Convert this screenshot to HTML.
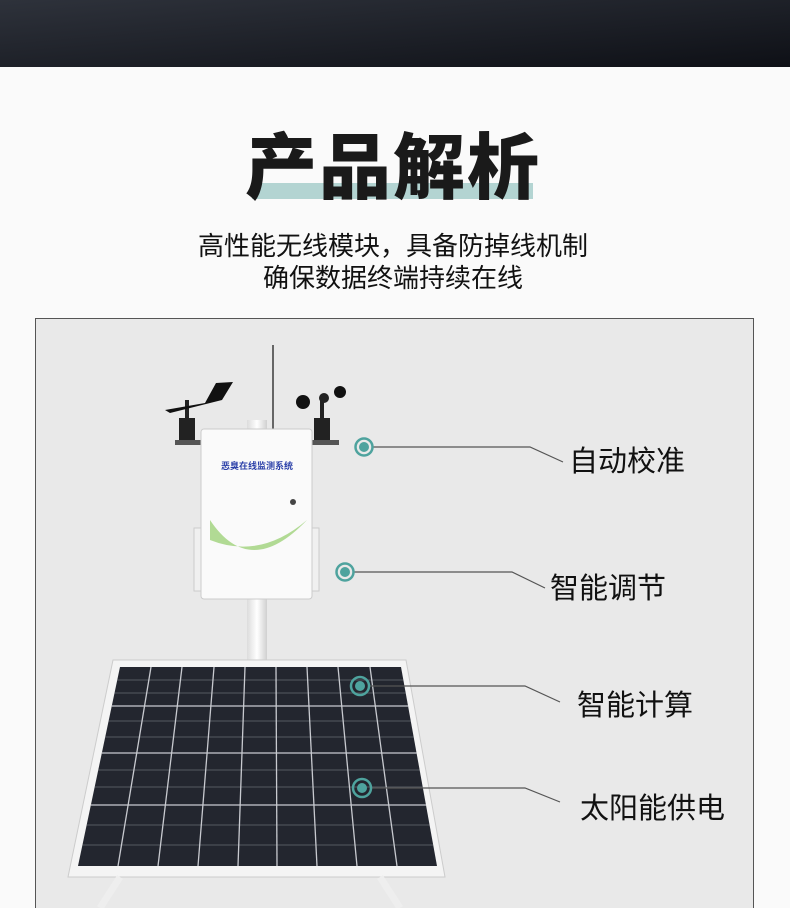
<!DOCTYPE html>
<html><head><meta charset="utf-8"><style>
body{margin:0;width:790px;height:908px;overflow:hidden;background:#fafafa;font-family:"Liberation Sans","Noto Sans CJK SC",sans-serif;}
</style></head><body>
<svg width="790" height="908" viewBox="0 0 790 908" xmlns="http://www.w3.org/2000/svg" style="display:block">
<defs>
<linearGradient id="hd" x1="0" y1="0" x2="1" y2="1"><stop offset="0" stop-color="#2e323b"/><stop offset="1" stop-color="#0e1016"/></linearGradient>
<linearGradient id="pole" x1="0" x2="1"><stop offset="0" stop-color="#dcdcdc"/><stop offset=".5" stop-color="#fff"/><stop offset="1" stop-color="#d0d0d0"/></linearGradient>
<clipPath id="cells"><polygon points="120,667 401,667 437,866 78,866"/></clipPath>
</defs>
<rect width="790" height="908" fill="#fafafa"/>
<rect width="790" height="67" fill="url(#hd)"/>
<rect x="252" y="183" width="281" height="16" fill="#b3d4d2"/>
<text x="393" y="193" text-anchor="middle" font-size="72" font-weight="900" fill="#1a1a1a" font-family="'Noto Sans CJK SC',sans-serif" letter-spacing="2">产品解析</text>
<text x="393" y="255" text-anchor="middle" font-size="26" fill="#111" font-family="'Noto Sans CJK SC',sans-serif">高性能无线模块，具备防掉线机制</text>
<text x="393" y="287" text-anchor="middle" font-size="26" fill="#111" font-family="'Noto Sans CJK SC',sans-serif">确保数据终端持续在线</text>
<rect x="35.5" y="318.5" width="718" height="600" fill="#e9e9e9" stroke="#555" stroke-width="1"/>
<rect x="247" y="420" width="20" height="270" fill="url(#pole)"/>
<line x1="273" y1="345" x2="273" y2="430" stroke="#666" stroke-width="2"/>
<rect x="179" y="418" width="16" height="24" fill="#222"/>
<rect x="185" y="400" width="4" height="20" fill="#222"/>
<path d="M165 410 L205 403 L216 383 L233 382 L222 400 L170 413Z" fill="#111"/>
<rect x="175" y="440" width="28" height="5" fill="#555"/>
<rect x="314" y="418" width="16" height="24" fill="#222"/>
<rect x="320" y="400" width="4" height="20" fill="#222"/>
<circle cx="303" cy="402" r="7" fill="#111"/><circle cx="340" cy="392" r="6" fill="#111"/><circle cx="324" cy="398" r="5" fill="#222"/>
<rect x="311" y="440" width="28" height="5" fill="#555"/>
<rect x="194" y="528" width="125" height="63" fill="#f0f0f0" stroke="#ccc"/>
<rect x="201" y="429" width="111" height="170" rx="3" fill="#fafafa" stroke="#ccc"/>
<text x="257" y="469" text-anchor="middle" font-size="9" font-weight="bold" fill="#2a3fa8" font-family="'Noto Sans CJK SC',sans-serif">恶臭在线监测系统</text>
<path d="M210 520 Q250 580 307 520 Q260 560 210 540Z" fill="#9fd27a" opacity=".8"/>
<circle cx="293" cy="502" r="3" fill="#444"/>
<polygon points="113,660 406,660 445,877 68,877" fill="#f4f4f4" stroke="#ccc"/>
<polygon points="120,667 401,667 437,866 78,866" fill="#23262f"/>
<g clip-path="url(#cells)" stroke="#c8cad0" stroke-width="1.3">
<line x1="0" y1="706" x2="790" y2="706"/><line x1="0" y1="753" x2="790" y2="753"/><line x1="0" y1="805" x2="790" y2="805"/>
<g stroke-width=".6" stroke="#8a8d96">
<line x1="0" y1="680" x2="790" y2="680"/><line x1="0" y1="693" x2="790" y2="693"/><line x1="0" y1="721" x2="790" y2="721"/><line x1="0" y1="737" x2="790" y2="737"/><line x1="0" y1="770" x2="790" y2="770"/><line x1="0" y1="787" x2="790" y2="787"/><line x1="0" y1="825" x2="790" y2="825"/><line x1="0" y1="845" x2="790" y2="845"/>
</g>
<line x1="151" y1="667" x2="118" y2="866"/><line x1="182" y1="667" x2="158" y2="866"/><line x1="214" y1="667" x2="198" y2="866"/><line x1="245" y1="667" x2="238" y2="866"/><line x1="276" y1="667" x2="277" y2="866"/><line x1="307" y1="667" x2="317" y2="866"/><line x1="338" y1="667" x2="357" y2="866"/><line x1="370" y1="667" x2="397" y2="866"/>
</g>
<line x1="120" y1="877" x2="100" y2="908" stroke="#eee" stroke-width="7"/>
<line x1="380" y1="877" x2="400" y2="908" stroke="#eee" stroke-width="7"/>
<g fill="none" stroke="#555" stroke-width="1.2">
<polyline points="372,447 530,447 563,462"/>
<polyline points="353,572 512,572 545,588"/>
<polyline points="368,686 525,686 560,702"/>
<polyline points="370,788 525,788 560,802"/>
</g>
<g stroke="#4ea39e" stroke-width="2.5" fill="none">
<circle cx="364" cy="447" r="8.5"/><circle cx="345" cy="572" r="8.5"/><circle cx="360" cy="686" r="9"/><circle cx="362" cy="788" r="9"/>
</g>
<g fill="#4ea39e">
<circle cx="364" cy="447" r="5"/><circle cx="345" cy="572" r="5"/><circle cx="360" cy="686" r="5"/><circle cx="362" cy="788" r="5"/>
</g>
<g font-size="29" fill="#111" font-family="'Noto Sans CJK SC',sans-serif">
<text x="569" y="471">自动校准</text>
<text x="550" y="598">智能调节</text>
<text x="577" y="715">智能计算</text>
<text x="580" y="818">太阳能供电</text>
</g>
</svg>
</body></html>
